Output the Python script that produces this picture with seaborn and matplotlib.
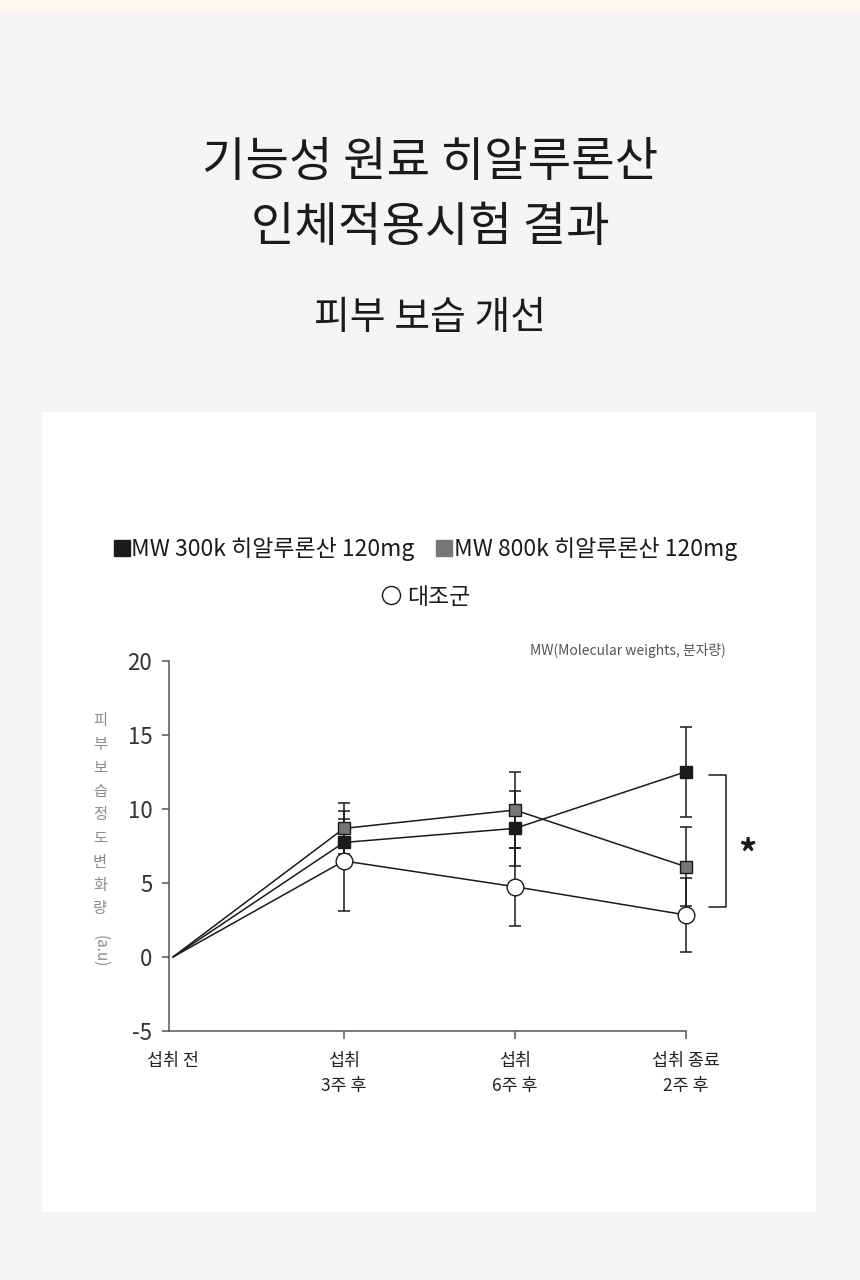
import matplotlib
matplotlib.use("Agg")
import matplotlib.pyplot as plt
from matplotlib.patches import Rectangle
from matplotlib.lines import Line2D
import seaborn as sns
import pandas as pd
import numpy as np

# ---- data ----
time_labels = ["섭취 전", "섭취\n3주 후", "섭취\n6주 후", "섭취 종료\n2주 후"]
time_pos = [0, 1, 2, 3]
mw300 = [0, 7.74, 8.69, 12.52]
mw300_err = [0, 1.56, 2.55, 3.04]
mw800 = [0, 8.69, 9.93, 6.10]
mw800_err = [0, 1.70, 2.59, 2.66]
control = [0, 6.49, 4.75, 2.84]
control_err = [0, 3.35, 2.63, 2.48]
series_names = ["MW 300k 히알루론산 120mg", "MW 800k 히알루론산 120mg", "대조군"]
y_ticks = [-5, 0, 5, 10, 15, 20]
bracket_top = 12.3
bracket_bottom = 3.4

sns.set_theme(style="white")
plt.rcParams["font.family"] = ["Noto Sans CJK KR", "DejaVu Sans"]

W, H = 860, 1280
fig = plt.figure(figsize=(W / 100, H / 100), dpi=100)
fig.patch.set_facecolor("#f5f5f5")

def fx(px):
    return px / W

def fy(py):
    return 1 - py / H

# faint warm strip at the top
fig.add_artist(Rectangle((0, fy(12)), 1, 12 / H, transform=fig.transFigure,
                         facecolor="#fcf8f1", edgecolor="none", zorder=0))
# white card
fig.add_artist(Rectangle((fx(42), fy(1212)), fx(816) - fx(42), (1212 - 412) / H,
                         transform=fig.transFigure, facecolor="white",
                         edgecolor="none", zorder=0))

# titles
title_color = "#1b1b1b"
fig.text(0.5, fy(163), "기능성 원료 히알루론산", ha="center", va="center",
         fontsize=34, color=title_color, fontweight="medium")
fig.text(0.5, fy(228), "인체적용시험 결과", ha="center", va="center",
         fontsize=34, color=title_color, fontweight="medium")
fig.text(0.5, fy(318), "피부 보습 개선", ha="center", va="center",
         fontsize=28, color=title_color, fontweight="medium")

# axes
ax_left, ax_right = 169, 771.5
ax_top, ax_bottom = 661, 1031
ax = fig.add_axes([fx(ax_left), fy(ax_bottom), fx(ax_right) - fx(ax_left),
                   (ax_bottom - ax_top) / H])
ax.set_facecolor("none")

line_color = "#1a1a1a"
styles = [
    (mw300, mw300_err, "s", "#1c1a1a", 9),
    (mw800, mw800_err, "s", "#777777", 9),
    (control, control_err, "o", "white", 12),
]

for vals, errs, mk, fc, ms in styles:
    ax.errorbar(time_pos[1:], vals[1:], yerr=errs[1:], fmt="none",
                ecolor=line_color, elinewidth=1.1, capsize=4, capthick=1.1,
                zorder=2)

for (vals, errs, mk, fc, ms), name in zip(styles, series_names):
    df = pd.DataFrame({"time": time_pos, "value": vals})
    sns.lineplot(data=df, x="time", y="value", ax=ax, color=line_color,
                 linewidth=1.1, zorder=3)
    ax.plot(time_pos[1:], vals[1:], linestyle="none", marker=mk,
            markerfacecolor=fc, markeredgecolor=line_color,
            markeredgewidth=1.0, markersize=ms, zorder=4)

ax.set_xlim(-0.023, 3.5)
ax.set_ylim(-5, 20)
ax.set_yticks(y_ticks)
ax.set_yticklabels([str(v) for v in y_ticks], fontsize=16, color="#333333")
ax.set_xticks(time_pos)
ax.set_xticklabels(time_labels, fontsize=12.5, color="#222222", linespacing=1.5)
ax.set_xlabel("")
ax.set_ylabel("")
for s in ["top", "right"]:
    ax.spines[s].set_visible(False)
for s in ["left", "bottom"]:
    ax.spines[s].set_color("#555555")
    ax.spines[s].set_linewidth(1.1)
ax.spines["bottom"].set_bounds(-0.023, 3)
ax.tick_params(axis="y", direction="out", length=5, width=1.1, color="#555555", pad=7, left=True)
ax.tick_params(axis="x", direction="out", length=6, width=1.1, color="#555555", pad=9, bottom=True)
ax.xaxis.get_major_ticks()[0].tick1line.set_visible(False)
ax.grid(False)

# significance bracket
bx0, bx1 = 3.135, 3.234
ax.plot([bx0, bx1, bx1, bx0], [bracket_top, bracket_top, bracket_bottom, bracket_bottom],
        color=line_color, linewidth=1.1, clip_on=False)
ax.text(3.36, (bracket_top + bracket_bottom) / 2 - 1.0, "*", ha="center", va="center",
        fontsize=26, fontweight="bold", color=line_color)

# note
fig.text(fx(726), fy(651), "MW(Molecular weights, 분자량)", ha="right", va="center",
         fontsize=10, color="#555555")

# y label (stacked)
fig.text(fx(100), fy(815), "\n".join("피부보습정도변화량"), ha="center", va="center",
         fontsize=11, color="#8c8c8c", linespacing=1.5)
fig.text(fx(100), fy(951), "(a.u)", ha="center", va="center", rotation=270,
         fontsize=11, color="#8c8c8c")

# legends
h1 = [Line2D([], [], linestyle="none", marker="s", markersize=12,
             markerfacecolor="#1c1a1a", markeredgecolor="#1c1a1a"),
      Line2D([], [], linestyle="none", marker="s", markersize=12,
             markerfacecolor="#777777", markeredgecolor="#777777")]
leg1 = fig.legend(h1, series_names[:2], loc="center", bbox_to_anchor=(fx(426), fy(549)),
                  ncol=2, frameon=False, fontsize=16.5, handlelength=0.6,
                  handletextpad=0.1, columnspacing=1.0, borderpad=0)
h2 = [Line2D([], [], linestyle="none", marker="o", markersize=13,
             markerfacecolor="white", markeredgecolor="#1c1a1a", markeredgewidth=1.0)]
leg2 = fig.legend(h2, series_names[2:], loc="center", bbox_to_anchor=(fx(426), fy(597)),
                  frameon=False, fontsize=16.5, handlelength=0.8, handletextpad=0.3,
                  borderpad=0)
for t in leg1.get_texts() + leg2.get_texts():
    t.set_color("#1b1b1b")

fig.savefig("out.png", dpi=100, facecolor=fig.get_facecolor())
